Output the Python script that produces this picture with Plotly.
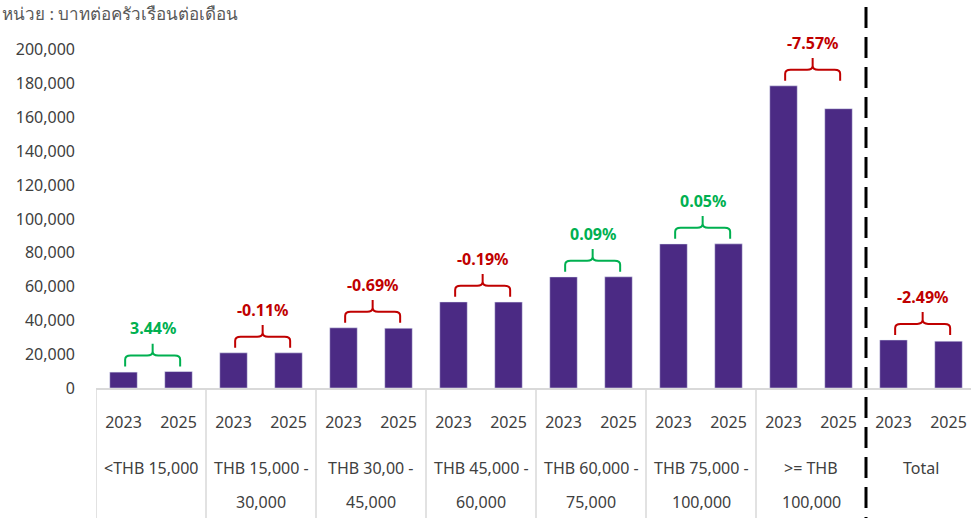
import plotly.graph_objects as go

# ---------------- data ----------------
groups = ["&lt;THB 15,000", "THB 15,000 -<br>30,000", "THB 30,00 -<br>45,000",
          "THB 45,000 -<br>60,000", "THB 60,000 -<br>75,000", "THB 75,000 -<br>100,000",
          ">= THB<br>100,000", "Total"]
years = ["2023", "2025"]
values_2023 = [9400, 20800, 35600, 50900, 65700, 85200, 178700, 28400]
values_2025 = [9720, 20780, 35350, 50800, 65760, 85240, 165170, 27690]
pct_labels = ["3.44%", "-0.11%", "-0.69%", "-0.19%", "0.09%", "0.05%", "-7.57%", "-2.49%"]
unit_label = "หน่วย : บาทต่อครัวเรือนต่อเดือน"

# ---------------- style ----------------
BAR = "#4B2A84"
GREEN = "#00B050"
RED = "#C00000"
TXT = "#404040"
GRID = "#D9D9D9"
FONT = "Noto Sans"
W, H = 971, 518
ML, MR, MT, MB = 96, 0, 16, 130
YMAX = 220000
plot_h = H - MT - MB

def py(px):  # pixel y -> paper y
    return (H - MB - px) / plot_h

n = len(groups)
xs, ys, texts = [], [], []
for i in range(n):
    for j, v in enumerate([values_2023[i], values_2025[i]]):
        xs.append(2 * i + j)
        ys.append(v)
        texts.append(years[j])

fig = go.Figure(go.Bar(x=xs, y=ys, marker_color=BAR, width=0.5,
                       hoverinfo="y"))

x_end = -0.5 + (W - ML - MR) / 55.0

shapes = []
annotations = []

# brackets and percent labels
for i in range(n):
    a, b = values_2023[i], values_2025[i]
    top = max(a, b)
    pos = not pct_labels[i].startswith("-")
    col = GREEN if pos else RED
    x0, x1 = 2 * i + 0.03, 2 * i + 1.03
    xc = (x0 + x1) / 2
    yb = top + 3000
    yh = top + 9500
    yt = top + 16500
    rx, ry = 0.1, 2400
    path = (f"M {x0},{yb} L {x0},{yh-ry} Q {x0},{yh} {x0+rx},{yh} "
            f"L {xc-rx},{yh} Q {xc},{yh} {xc},{yh+ry} L {xc},{yt} "
            f"M {xc},{yh+ry} Q {xc},{yh} {xc+rx},{yh} "
            f"L {x1-rx},{yh} Q {x1},{yh} {x1},{yh-ry} L {x1},{yb}")
    shapes.append(dict(type="path", path=path, xref="x", yref="y",
                       line=dict(color=col, width=2)))
    annotations.append(dict(x=xc, y=top + 25500, xref="x", yref="y",
                            text=f"<b>{pct_labels[i]}</b>", showarrow=False,
                            font=dict(family=FONT, size=16, color=col),
                            xanchor="center", yanchor="middle"))

# table separators
for k in range(n + 1):
    if k == 7:
        continue
    shapes.append(dict(type="line", xref="x", yref="paper", x0=2 * k - 0.5, x1=2 * k - 0.5,
                       y0=0, y1=py(H), line=dict(color=GRID, width=1.5)))
# dashed divider before Total
shapes.append(dict(type="line", xref="x", yref="paper", x0=13.5, x1=13.5,
                   y0=py(7), y1=py(H), line=dict(color="black", width=3, dash="21px,9px")))

# group labels
for i, g in enumerate(groups):
    for li, line in enumerate(g.split("<br>")):
        annotations.append(dict(x=2 * i + 0.5, y=py(468 + 34 * li), xref="x", yref="paper",
                                text=line, showarrow=False,
                                font=dict(family=FONT, size=16, color=TXT),
                                xanchor="center", yanchor="middle"))

# unit label
annotations.append(dict(x=0, y=py(13), xref="paper", yref="paper", xanchor="left",
                        yanchor="middle", text=unit_label, showarrow=False,
                        xshift=-ML, font=dict(family=FONT, size=17, color="#595959")))

fig.update_layout(
    width=W, height=H,
    margin=dict(l=ML, r=MR, t=MT, b=MB),
    plot_bgcolor="white", paper_bgcolor="white",
    showlegend=False,
    font=dict(family=FONT, size=16, color=TXT),
    shapes=shapes, annotations=annotations,
    xaxis=dict(range=[-0.5, x_end], tickvals=xs, ticktext=texts, showgrid=False,
               zeroline=False, showline=True, linecolor=GRID, linewidth=1.5,
               ticks="", ticklabelstandoff=19, tickfont=dict(family=FONT, size=16, color=TXT)),
    yaxis=dict(range=[0, YMAX], tickvals=list(range(0, 200001, 20000)), tickformat=",",
               showgrid=False, zeroline=False, showline=False, ticks="",
               ticklabelstandoff=20, tickfont=dict(family=FONT, size=16, color=TXT)),
)

fig.write_html("out.html", config={"displayModeBar": False},
               post_script="document.body.style.margin='0';document.body.style.overflow='hidden';")
